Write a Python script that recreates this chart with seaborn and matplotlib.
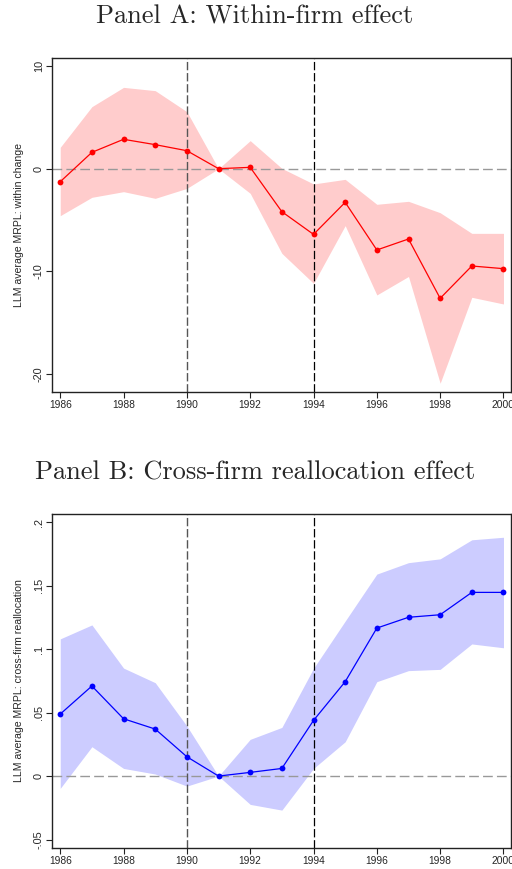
import numpy as np
import pandas as pd
import matplotlib
matplotlib.use("Agg")
import matplotlib.pyplot as plt
import seaborn as sns

years = list(range(1986, 2001))

within_est = [-1.27, 1.59, 2.86, 2.34, 1.75, 0.0, 0.13, -4.19, -6.40, -3.28, -7.92, -6.85, -12.63, -9.48, -9.74]
within_hi = [2.08, 6.04, 7.92, 7.60, 5.55, 0.0, 2.73, 0.03, -1.49, -1.04, -3.47, -3.18, -4.29, -6.30, -6.30]
within_lo = [-4.58, -2.79, -2.24, -2.89, -1.92, 0.0, -2.40, -8.25, -11.17, -5.55, -12.30, -10.50, -20.90, -12.53, -13.18]

cross_est = [0.0488, 0.0709, 0.0451, 0.0370, 0.0152, 0.0, 0.0029, 0.0060, 0.0438, 0.0743, 0.1165, 0.1250, 0.1270, 0.1446, 0.1446]
cross_hi = [0.108, 0.119, 0.085, 0.0735, 0.0394, 0.0, 0.0289, 0.0383, 0.0848, 0.122, 0.159, 0.168, 0.171, 0.186, 0.188]
cross_lo = [-0.0097, 0.0231, 0.0060, 0.0016, -0.0079, 0.0, -0.0223, -0.0268, 0.0060, 0.027, 0.0743, 0.083, 0.084, 0.104, 0.101]

xticks = [1986, 1988, 1990, 1992, 1994, 1996, 1998, 2000]
yticks_a = [-20, -10, 0, 10]
yticklabels_a = ["-20", "-10", "0", "10"]
yticks_b = [-0.05, 0, 0.05, 0.1, 0.15, 0.2]
yticklabels_b = ["-.05", "0", ".05", ".1", ".15", ".2"]
vlines = [1990, 1994]

sns.set_style("white")
plt.rcParams['font.family'] = ['Liberation Sans', 'DejaVu Sans']
plt.rcParams['lines.scale_dashes'] = False

fig = plt.figure(figsize=(5.12, 8.69), dpi=100)
axA = fig.add_axes([0.1022, 0.5493, 0.896, 0.3836])
axB = fig.add_axes([0.1022, 0.0245, 0.896, 0.3840])

def panel(ax, est, lo, hi, line_c, band_c, ylim, yticks, ylabels, ylabel):
    df = pd.DataFrame({"year": years, "est": est, "lo": lo, "hi": hi})
    ax.fill_between(df["year"], df["lo"], df["hi"], color=band_c, linewidth=0, zorder=1)
    ax.axhline(0, color="#999999", lw=1.0, dashes=(7, 3), zorder=2)
    ax.axvline(vlines[0], color="#555555", lw=1.0, dashes=(6, 2), zorder=2)
    ax.axvline(vlines[1], color="black", lw=0.9, dashes=(6, 2), zorder=2)
    sns.lineplot(data=df, x="year", y="est", ax=ax, color=line_c, lw=0.9,
                 marker="o", markersize=4.2, markeredgewidth=0, zorder=3)
    ax.set_xlim(1985.75, 2000.24)
    ax.set_ylim(*ylim)
    ax.set_xticks(xticks)
    ax.set_xticklabels([str(x) for x in xticks], fontsize=7.4)
    ax.set_yticks(yticks)
    ax.set_yticklabels(ylabels, fontsize=7.8, rotation=90, va="center")
    ax.set_xlabel("")
    ax.set_ylabel(ylabel, fontsize=7.6, labelpad=7)
    ax.tick_params(axis="both", direction="out", length=4, width=0.8, color="#222222",
                   left=True, bottom=True, pad=2)
    for s in ax.spines.values():
        s.set_color("#222222")
        s.set_linewidth(1.0)

panel(axA, within_est, within_lo, within_hi, "#FF0000", "#FFCCCC", (-21.72, 10.75),
      yticks_a, yticklabels_a, "LLM average MRPL: within change")
panel(axB, cross_est, cross_lo, cross_hi, "#0000FF", "#CCCCFF", (-0.0564, 0.2063),
      yticks_b, yticklabels_b, "LLM average MRPL: cross-firm reallocation")

fig.text(0.498, 1 - 24 / 869, "Panel A: Within-firm effect", family="cmr10",
         fontsize=19, ha="center", va="baseline")
fig.text(0.498, 1 - 480 / 869, "Panel B: Cross-firm reallocation effect", family="cmr10",
         fontsize=19, ha="center", va="baseline")

fig.savefig("out.png", dpi=100)
